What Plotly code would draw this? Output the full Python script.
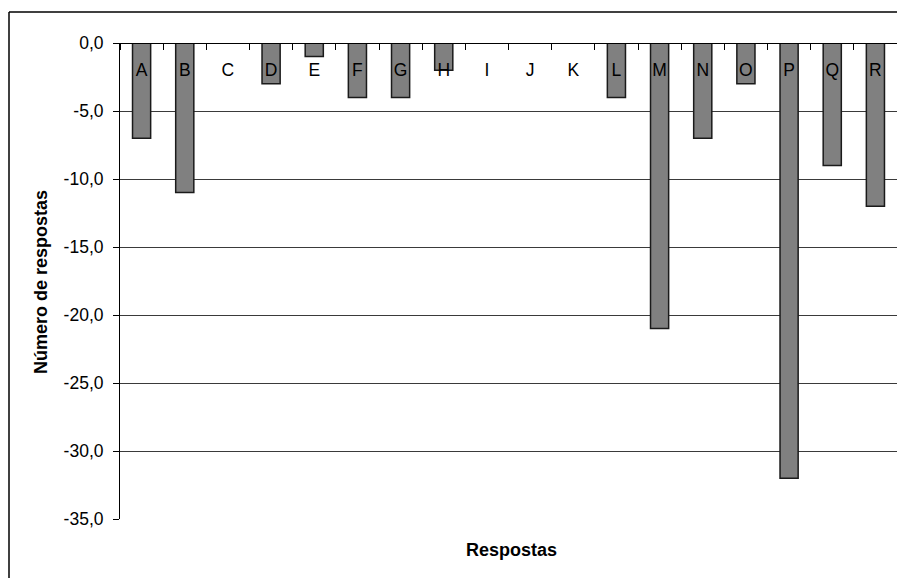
import plotly.graph_objects as go

categories = ["A", "B", "C", "D", "E", "F", "G", "H", "I", "J", "K", "L", "M", "N", "O", "P", "Q", "R"]
values = [-7, -11, 0, -3, -1, -4, -4, -2, 0, 0, 0, -4, -21, -7, -3, -32, -9, -12]
y_ticks = [0, -5, -10, -15, -20, -25, -30, -35]
y_tick_labels = ["0,0", "-5,0", "-10,0", "-15,0", "-20,0", "-25,0", "-30,0", "-35,0"]
x_title = "Respostas"
y_title = "Número de respostas"

W, H = 897, 578
ML, MT, MR, MB = 120, 43, 0, 59
PW, PH = W - ML - MR, H - MT - MB

def px_x(x):
    return (x - ML) / PW

def px_y(y):
    return (H - MB - y) / PH

fig = go.Figure(
    go.Bar(
        x=categories,
        y=values,
        marker=dict(color="#808080", line=dict(color="#1a1a1a", width=1.5)),
        hoverinfo="x+y",
    )
)

fam = "Liberation Sans, Arial, sans-serif"
tick_font = dict(family=fam, size=17.5, color="black")
title_font = dict(family=fam, size=18, color="black")

fig.update_layout(
    width=W,
    height=H,
    margin=dict(l=ML, r=MR, t=MT, b=MB, pad=0),
    paper_bgcolor="white",
    plot_bgcolor="white",
    font=tick_font,
    showlegend=False,
    bargap=0.58,
    xaxis=dict(
        type="category",
        side="bottom",
        anchor="free",
        position=1.0,
        showline=True,
        linecolor="black",
        linewidth=1,
        ticks="outside",
        ticklen=6,
        tickcolor="black",
        tickson="boundaries",
        ticklabelstandoff=11,
        showgrid=False,
        zeroline=False,
        tickfont=tick_font,
    ),
    yaxis=dict(
        range=[-35, 0],
        tickvals=y_ticks,
        ticktext=y_tick_labels,
        showgrid=True,
        gridcolor="#3a3a3a",
        gridwidth=1,
        showline=True,
        linecolor="black",
        linewidth=1,
        ticks="outside",
        ticklen=6,
        tickcolor="black",
        ticklabelstandoff=6,
        zeroline=False,
        tickfont=tick_font,
    ),
    annotations=[
        dict(
            text="<b>" + x_title + "</b>",
            xref="paper", yref="paper",
            x=px_x(511), y=px_y(550),
            xanchor="center", yanchor="middle",
            showarrow=False,
            font=title_font,
        ),
        dict(
            text="<b>" + y_title + "</b>",
            xref="paper", yref="paper",
            x=px_x(41), y=px_y(282),
            xanchor="center", yanchor="middle",
            textangle=-90,
            showarrow=False,
            font=title_font,
        ),
    ],
    shapes=[
        dict(type="line", xref="paper", yref="paper",
             x0=px_x(9), x1=px_x(9), y0=px_y(H + 10), y1=px_y(12),
             line=dict(color="black", width=1.5)),
        dict(type="line", xref="paper", yref="paper",
             x0=px_x(9), x1=px_x(W + 10), y0=px_y(12), y1=px_y(12),
             line=dict(color="black", width=1.5)),
    ],
)

fig.write_html("out.html")
